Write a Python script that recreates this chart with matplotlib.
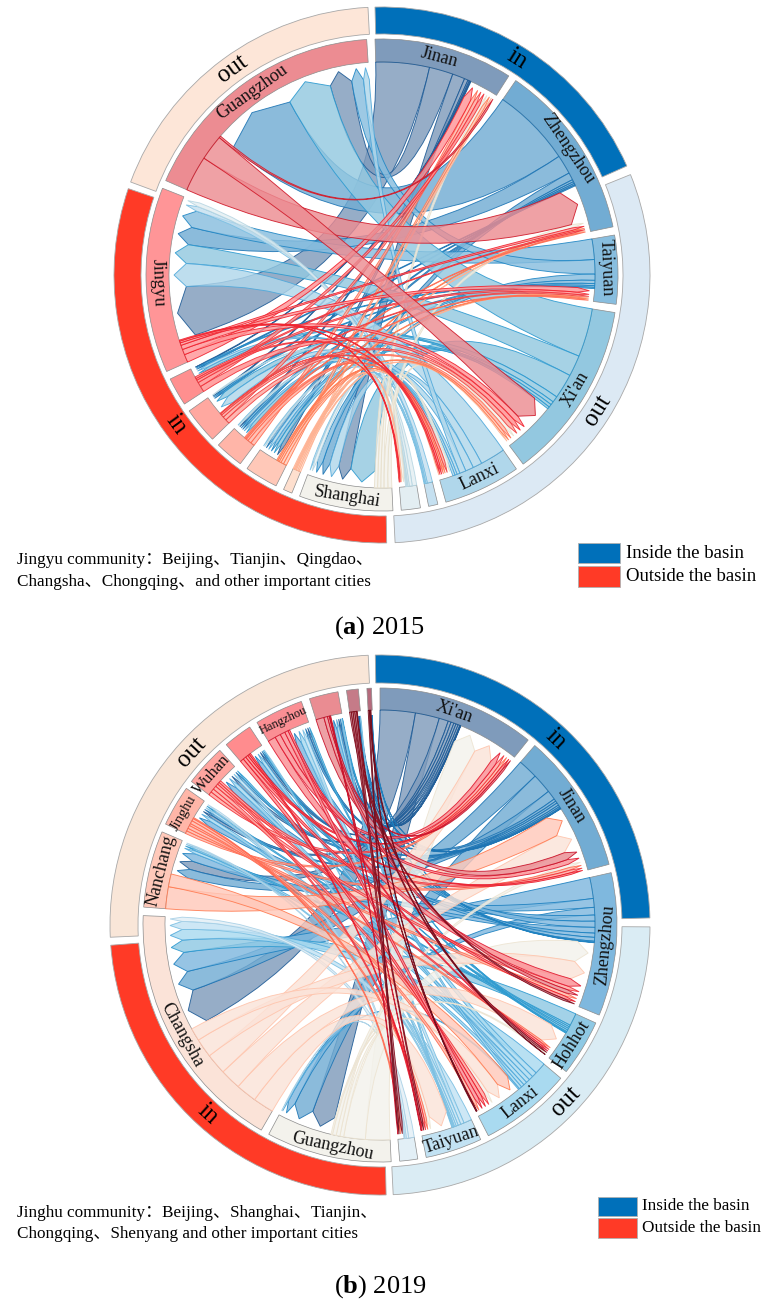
import numpy as np
import matplotlib
matplotlib.use('Agg')
import matplotlib.pyplot as plt
from matplotlib.colors import to_rgba
from matplotlib.patches import PathPatch, Rectangle, Wedge
from matplotlib.path import Path

plt.rcParams['font.family'] = ['Liberation Serif', 'Noto Sans CJK SC']
plt.rcParams['mathtext.fontset'] = 'custom'
plt.rcParams['mathtext.bf'] = 'Liberation Serif:bold'
plt.rcParams['mathtext.rm'] = 'Liberation Serif'

BLUE = '#0070BA'
RED = '#FF3A26'

# ---- panel a, 2015: sector sizes in degrees, clockwise from the top
labels_a = ['Jinan', 'Zhengzhou', 'Taiyuan', "Xi'an", 'Lanxi', '', '', 'Shanghai',
            '', '', '', '', '', 'Jingyu', 'Guangzhou']
totals_a = [34.2, 43.7, 16.9, 44.1, 19.0, 2.3, 4.7, 23.1, 2.2, 8.2, 7.0, 8.9, 7.0, 45.7, 62.7]
colors_a = ['#7F9BBB', '#72ACD3', '#88BEDF', '#93C8E0', '#B0D7EB', '#C5E0F0', '#E3EEF2', '#F3F2EC',
            '#FEDFCE', '#FFC8B8', '#FFB5A8', '#FFA8A0', '#FF8F8F', '#FF9597', '#EC8C92']
edges_a = ['#1C5A96', '#1C74B4', '#1F86C4', '#2C9AD0', '#4FA8DA', '#7ABFE2', '#B7D6E2', '#E8E0CC',
           '#FFB090', '#FF7A50', '#FF6A50', '#F04040', '#F03038', '#F0202C', '#D01828']
# outgoing flows of each sector, [target index, width]
flows_a = [
    [[13, 14.6], [14, 6.5], [7, 3.4], [9, 1.0], [10, 0.4], [11, 0.3], [12, 0.2]],
    [[14, 21.5], [13, 5.2], [7, 2.0], [9, 0.6], [10, 0.5], [11, 0.4], [12, 0.3]],
    [[13, 5.0], [14, 3.5], [7, 1.5], [9, 0.8], [10, 0.5], [11, 0.4], [12, 0.3]],
    [[14, 12.9], [13, 5.6], [7, 6.6], [11, 1.6], [9, 0.9], [10, 0.8], [12, 0.6]],
    [[13, 6.8], [7, 2.5], [11, 2.2], [14, 1.7], [9, 0.8], [10, 0.6], [12, 0.6]],
    [[13, 1.4], [7, 0.4], [9, 0.3], [10, 0.2]],
    [[13, 1.2], [7, 0.8], [9, 0.4], [10, 0.3], [11, 0.3]],
    [[3, 1.0], [1, 1.0], [0, 0.8], [4, 0.8], [6, 0.8]],
    [[0, 0.5], [3, 0.4], [6, 0.4], [2, 0.3], [4, 0.3], [1, 0.3]],
    [[0, 0.8], [3, 0.7], [4, 0.5], [1, 0.4], [2, 0.3]],
    [[0, 1.0], [3, 0.9], [4, 0.5], [2, 0.3], [1, 0.3]],
    [[3, 1.2], [0, 1.0], [4, 0.7], [2, 0.4], [6, 0.2]],
    [[3, 1.3], [0, 1.0], [2, 0.6], [1, 0.4], [4, 0.4]],
    [[0, 2.2], [3, 1.5], [2, 1.2], [1, 0.7], [4, 0.5], [6, 0.3]],
    [[1, 9.8], [3, 7.0], [0, 0.5]],
]
ring_a = [(-1.5, 66.0), (68.0, 177.2), (179.0, 288.8), (290.3, 357.0)]
ring_colors_a = [BLUE, '#DCE9F4', RED, '#FDE6D8']
ring_text_a = ['in', 'out', 'in', 'out']
ring_text_angle_a = [32, 122, 234, 324]
label_angle_a = [14.7, 55.8, 88, 120.5, 154.2, 0, 0, 189, 0, 0, 0, 0, 0, 268, 324.6]

# ---- panel b, 2019
labels_b = ["Xi'an", 'Jinan', 'Zhengzhou', 'Hohhot', 'Lanxi', 'Taiyuan', '', 'Guangzhou', 'Changsha',
            'Nanchang', 'Jinghu', 'Wuhan', '', 'Hangzhou', '', '', '']
totals_b = [38.7, 34.4, 35.1, 13.8, 22.5, 13.9, 4.4, 30.7, 62.2, 18.8, 10.0, 10.2, 7.1, 11.9, 7.1, 2.9, 1.1]
colors_b = ['#7F9BBB', '#72ACD3', '#7FB8DE', '#8FC9E4', '#A9DAF0', '#C2E2F3', '#E2EFF6', '#F3F2EC',
            '#FBE3D8', '#FFC9BA', '#FFB6A8', '#FFA5A0', '#FF8C8E', '#FB8F94', '#EA8C92', '#C57B88', '#B56A7C']
edges_b = ['#1C5A96', '#1C74B4', '#1C80C0', '#2C9AD0', '#4FA8DA', '#7ABFE2', '#A8D0E6', '#EDE4D2',
           '#FFC4AC', '#FF7A50', '#FF6A50', '#F03038', '#E81828', '#E01830', '#C81028', '#800818', '#700818']
flows_b = [
    [[8, 9.5], [7, 6.5], [9, 2.5], [10, 0.8], [11, 0.8], [12, 0.6], [13, 0.6], [14, 0.5], [15, 0.2], [16, 0.1]],
    [[8, 5.5], [7, 5.5], [9, 2.6], [13, 0.7], [10, 0.6], [11, 0.7], [12, 0.5], [14, 0.4], [15, 0.2], [16, 0.1]],
    [[8, 5.5], [9, 2.3], [7, 2.0], [11, 1.6], [13, 1.6], [10, 1.5], [12, 1.1], [14, 1.0], [15, 0.3], [16, 0.1]],
    [[8, 3.5], [9, 0.5], [11, 0.5], [10, 0.5], [13, 0.5], [12, 0.3], [14, 0.2]],
    [[8, 3.0], [13, 1.3], [11, 1.1], [10, 1.0], [12, 0.9], [9, 0.8], [14, 0.7], [7, 0.3]],
    [[8, 2.3], [13, 1.0], [11, 0.8], [10, 0.6], [9, 0.5], [12, 0.3], [14, 0.3], [15, 0.2]],
    [[8, 1.2], [10, 0.5], [9, 0.3], [7, 0.2]],
    [[0, 6.5], [2, 5.7], [4, 1.0], [5, 1.0], [1, 1.0], [3, 0.4]],
    [[5, 5.5], [3, 5.5], [1, 5.5], [0, 5.5], [2, 5.0], [4, 3.4]],
    [[1, 6.0], [4, 3.5]],
    [[0, 0.8], [1, 0.8], [2, 0.9], [3, 0.6], [4, 0.9], [5, 0.7], [6, 0.3]],
    [[0, 1.0], [2, 1.0], [4, 1.0], [1, 0.8], [5, 0.6], [3, 0.6]],
    [[4, 1.0], [2, 0.8], [0, 0.7], [1, 0.5], [5, 0.4]],
    [[2, 2.2], [0, 1.6], [1, 1.4], [4, 1.0], [3, 0.5]],
    [[1, 2.2], [2, 1.0], [0, 0.5], [5, 0.2], [6, 0.2]],
    [[2, 0.5], [5, 0.5], [3, 0.5], [6, 0.5], [4, 0.2]],
    [[6, 0.3], [3, 0.2], [4, 0.2]],
]
ring_b = [(-1.0, 88.5), (90.4, 177.2), (178.7, 265.7), (267.4, 357.5)]
ring_colors_b = [BLUE, '#DAECF4', RED, '#F9E6D8']
ring_text_b = ['in', 'out', 'in', 'out']
ring_text_angle_b = [43.4, 133.5, 222.3, 312.5]
label_angle_b = [19.2, 58, 95, 122, 141.8, 161.6, 0, 192, 241, 284, 299.7, 311.8, 0, 334.7, 0, 0, 0]
label_sizes = {'Hangzhou': 9, 'Jinghu': 10.5, 'Wuhan': 12}


def polar(r, angle):
    a = np.radians(angle)
    return r * np.sin(a), r * np.cos(a)


def tangent_rotation(angle):
    angle = angle % 360
    if 90 < angle < 270:
        return 180 - angle
    return -angle


def chord_path(a1, a2, t1, t2, r_src, r_tip, r_head):
    # ribbon: arc on the source sector, curve through the centre, arrow head on the target
    verts = [polar(r_src, a) for a in np.linspace(a1, a2, 8)]
    codes = [Path.MOVETO] + [Path.LINETO] * 7
    verts += [(0, 0), polar(r_head, t1)]
    codes += [Path.CURVE3, Path.CURVE3]
    verts += [polar(r_tip, (t1 + t2) / 2), polar(r_head, t2)]
    codes += [Path.LINETO, Path.LINETO]
    verts += [(0, 0), polar(r_src, a1)]
    codes += [Path.CURVE3, Path.CURVE3]
    return Path(verts, codes)


def draw_chord(ax, labels, totals, colors, edges, flows, first, radii, label_angle,
               ring, ring_colors, ring_text, ring_angle):
    r_out, r_ring, r_sec, r_in = radii
    n = len(totals)
    gap = (360 - sum(totals)) / n

    starts = []
    pos = first
    for t in totals:
        starts.append(pos)
        pos += t + gap

    incoming = [[] for _ in range(n)]
    for src, row in enumerate(flows):
        for flow_no, (tgt, val) in enumerate(row):
            incoming[tgt].append((val, src, flow_no))

    # slots of every flow inside its two sectors
    src_slot = {}
    tgt_slot = {}
    for i in range(n):
        scale = totals[i] / (sum(v for _, v in flows[i]) + sum(x[0] for x in incoming[i]))
        pos = starts[i]
        for flow_no, (_, val) in enumerate(flows[i]):
            src_slot[(i, flow_no)] = (pos, pos + val * scale)
            pos += val * scale
        for val, src, flow_no in sorted(incoming[i], key=lambda x: -x[0]):
            tgt_slot[(src, flow_no)] = (pos, pos + val * scale)
            pos += val * scale

    for (start, end), c in zip(ring, ring_colors):
        ax.add_patch(Wedge((0, 0), r_out, 90 - end, 90 - start, width=r_out - r_ring,
                           facecolor=c, edgecolor='#a8a8a8', lw=0.6, zorder=1))
    for i in range(n):
        ax.add_patch(Wedge((0, 0), r_sec, 90 - starts[i] - totals[i], 90 - starts[i],
                           width=r_sec - r_in, facecolor=colors[i], edgecolor='#8c8c8c',
                           lw=0.5, zorder=1))

    for src, row in enumerate(flows):
        for flow_no in range(len(row)):
            a1, a2 = src_slot[(src, flow_no)]
            t1, t2 = tgt_slot[(src, flow_no)]
            path = chord_path(a1, a2, t1, t2, r_in, r_in - 5, r_in - 17)
            ax.add_patch(PathPatch(path, facecolor=to_rgba(colors[src], 0.82),
                                   edgecolor=to_rgba(edges[src], 0.9), lw=0.65, zorder=2))

    for name, ang in zip(labels, label_angle):
        if not name:
            continue
        x, y = polar((r_sec + r_in) / 2, ang)
        ax.text(x, y, name, rotation=tangent_rotation(ang), rotation_mode='anchor', ha='center',
                va='center', fontsize=label_sizes.get(name, 13), color='#111111', zorder=4)

    for name, ang in zip(ring_text, ring_angle):
        x, y = polar((r_out + r_ring) / 2, ang)
        ax.text(x, y, name, rotation=tangent_rotation(ang), rotation_mode='anchor', ha='center',
                va='center', fontsize=18, color='black', zorder=4)


def panel_axes(fig, cx, cy, half):
    ax = fig.add_axes([(cx - half) / 761, 1 - (cy + half) / 1301, 2 * half / 761, 2 * half / 1301])
    ax.set_xlim(-half, half)
    ax.set_ylim(-half, half)
    ax.axis('off')
    return ax


def legend_box(fig, x, y, w, h, color, text, text_x, size):
    fig.add_artist(Rectangle((x / 761, 1 - (y + h) / 1301), w / 761, h / 1301, facecolor=color,
                             edgecolor='#b0b0b0', lw=0.6, transform=fig.transFigure))
    fig.text(text_x / 761, 1 - (y + h / 2) / 1301, text, fontsize=size, va='center', ha='left')


fig = plt.figure(figsize=(7.61, 13.01), dpi=100)

ax_a = panel_axes(fig, 382, 275, 274)
draw_chord(ax_a, labels_a, totals_a, colors_a, edges_a, flows_a, -1.7, (268, 241, 236, 213),
           label_angle_a, ring_a, ring_colors_a, ring_text_a, ring_text_angle_a)
ax_b = panel_axes(fig, 380, 925, 276)
draw_chord(ax_b, labels_b, totals_b, colors_b, edges_b, flows_b, 0.0, (270, 242, 237, 215),
           label_angle_b, ring_b, ring_colors_b, ring_text_b, ring_text_angle_b)

fig.text(17 / 761, 1 - 560 / 1301, 'Jingyu community：Beijing、Tianjin、Qingdao、', fontsize=12.3, va='center')
fig.text(17 / 761, 1 - 582 / 1301, 'Changsha、Chongqing、and other important cities', fontsize=12.3, va='center')
legend_box(fig, 578, 543, 42, 20, BLUE, 'Inside the basin', 626, 13.5)
legend_box(fig, 578, 566, 42, 21, RED, 'Outside the basin', 626, 13.5)
fig.text(380 / 761, 1 - 628 / 1301, r'($\mathbf{a}$) 2015', fontsize=19, ha='center', va='center')

fig.text(17 / 761, 1 - 1213 / 1301, 'Jinghu community：Beijing、Shanghai、Tianjin、', fontsize=12.3, va='center')
fig.text(17 / 761, 1 - 1234 / 1301, 'Chongqing、Shenyang and other important cities', fontsize=12.3, va='center')
legend_box(fig, 598, 1197, 39, 19, BLUE, 'Inside the basin', 642, 12.3)
legend_box(fig, 598, 1218, 39, 20, RED, 'Outside the basin', 642, 12.3)
fig.text(380 / 761, 1 - 1287 / 1301, r'($\mathbf{b}$) 2019', fontsize=19, ha='center', va='center')

fig.savefig('out.png', dpi=100, facecolor='white')
